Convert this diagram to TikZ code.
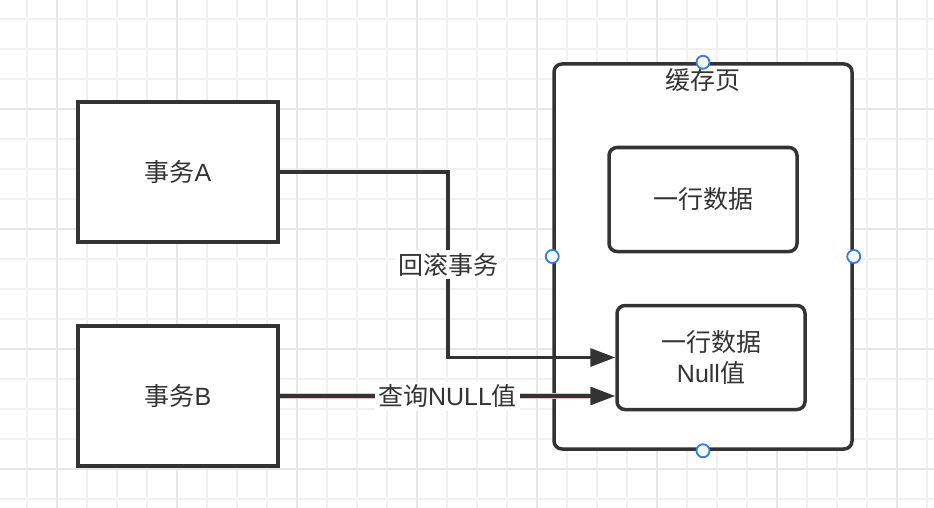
\documentclass[tikz,border=0pt]{standalone}
\usepackage{fontspec}
\setmainfont{Liberation Sans}
\newfontfamily\cjk{Noto Sans CJK SC}
\usetikzlibrary{arrows.meta,calc}
\definecolor{ink}{HTML}{333333}
\definecolor{gridminor}{HTML}{F0F0F0}
\definecolor{gridmajor}{HTML}{E6E6E6}
\definecolor{handle}{HTML}{2F7BF0}
\definecolor{halo}{HTML}{E2C4C4}
\tikzset{
  box/.style={draw=ink, line width=3.5pt, fill=white, text=ink, inner sep=0pt,
    font=\fontsize{25}{31}\selectfont, align=center},
  txbox/.style={box, minimum width=200pt, minimum height=140pt},
  pagebox/.style={box, rounded corners=8pt, minimum width=298pt, minimum height=385pt},
  rowbox/.style={box, rounded corners=8pt, minimum width=188pt, minimum height=104pt},
  conn/.style={draw=ink, line width=3.3pt, -{Triangle[length=25pt,width=18pt]}},
  lbl/.style={fill=white, text=ink, inner sep=3pt, font=\fontsize{25}{31}\selectfont},
  handlept/.style={circle, draw=handle, line width=1.8pt, fill=white, minimum size=13pt, inner sep=0pt}
}
\begin{document}
\begin{tikzpicture}[x=1pt,y=-1pt]
\useasboundingbox (0,0) rectangle (934,508);
\fill[white] (0,0) rectangle (934,508);
% grid
\foreach \gx in {27,57,...,927} \draw[gridminor, line width=1.2pt] (\gx,0) -- (\gx,508);
\foreach \gy in {19,49,...,499} \draw[gridminor, line width=1.2pt] (0,\gy) -- (934,\gy);
\foreach \gx in {57,177,...,897} \draw[gridmajor, line width=1.4pt] (\gx,0) -- (\gx,508);
\foreach \gy in {109,229,...,469} \draw[gridmajor, line width=1.4pt] (0,\gy) -- (934,\gy);
% nodes
\node[txbox] (A) at (178,172) {{\cjk 事务}A};
\node[txbox] (B) at (178,396) {{\cjk 事务}B};
\node[pagebox] (page) at (703,256.5) {};
\node[text=ink, font=\fontsize{25}{31}\selectfont\cjk] (title) at (703,80) {缓存页};
\node[rowbox] (row1) at (703,199.5) {\cjk 一行数据};
\node[rowbox] (row2) at (711,357.5) {{\cjk 一行数据}\\Null{\cjk 值}};
\coordinate (bend) at (448,0);
% connectors
\draw[conn] (A.east) -- (A.east -| bend) -- node[lbl] (rb) {\cjk 回滚事务} (bend |- row2.west) -- (row2.west);
\draw[halo, line width=6pt] (B.east) -- ($(B.east -| row2.west)+(-26,0)$);
\draw[conn] (B.east) -- node[lbl] (q) {{\cjk 查询}NULL{\cjk 值}} (B.east -| row2.west);
% handles
\node[handlept] (h1) at (page.north) {};
\node[handlept] (h2) at (page.west) {};
\node[handlept] (h3) at (page.east) {};
\node[handlept] (h4) at (page.south) {};
\end{tikzpicture}
\end{document}
